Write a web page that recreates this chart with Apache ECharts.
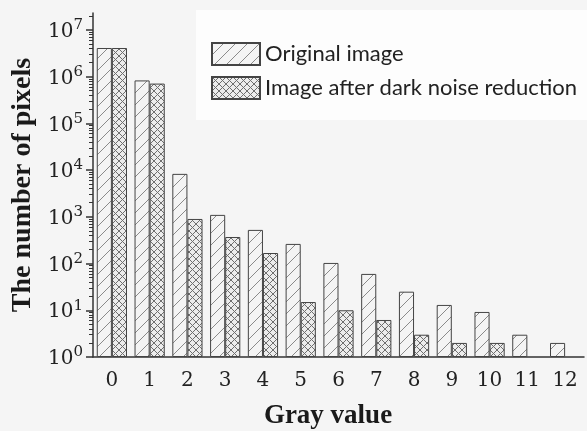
<!DOCTYPE html>
<html><head><meta charset="utf-8">
<script src="https://cdn.jsdelivr.net/npm/echarts@6/dist/echarts.min.js"></script>
<style>html,body{margin:0;padding:0;background:#f5f5f5}#c{width:587px;height:431px}</style>
</head><body><div id="c"></div>
<script>
const categories = ['0','1','2','3','4','5','6','7','8','9','10','11','12'];
const originalImage = [4.1e6, 8.3e5, 8.3e3, 1100, 525, 263, 103, 60, 25, 13, 9.2, 3, 2];
const afterReduction = [4.1e6, 7.1e5, 900, 370, 168, 15, 10, 6.2, 3, 2, 2, null, null];
const seriesNames = ['Original image', 'Image after dark noise reduction'];
const majorTicks = [1, 10, 100, 1e3, 1e4, 1e5, 1e6, 1e7];
const minorTicks = [];
for (let e = 0; e <= 7; e++) for (let k = 2; k <= 9; k++) { const v = k * Math.pow(10, e); if (v <= 2.3e7) minorTicks.push(v); }

function diagPattern() {
  const s = 12, c = document.createElement('canvas'); c.width = s; c.height = s;
  const g = c.getContext('2d');
  g.fillStyle = '#f4f4f4'; g.fillRect(0, 0, s, s);
  g.strokeStyle = '#8a8a8a'; g.lineWidth = 1;
  g.beginPath();
  g.moveTo(-1, s + 1); g.lineTo(s + 1, -1);
  g.moveTo(-1, 1); g.lineTo(1, -1);
  g.moveTo(s - 1, s + 1); g.lineTo(s + 1, s - 1);
  g.stroke();
  return c;
}
function crossPattern() {
  const s = 7, c = document.createElement('canvas'); c.width = s; c.height = s;
  const g = c.getContext('2d');
  g.fillStyle = '#ececec'; g.fillRect(0, 0, s, s);
  g.strokeStyle = '#6e6e6e'; g.lineWidth = 1;
  g.beginPath();
  g.moveTo(0, 0); g.lineTo(s, s);
  g.moveTo(0, s); g.lineTo(s, 0);
  g.stroke();
  return c;
}

const serif = 'Liberation Serif';
const gridLeft = 93, gridRight = 3, gridTop = 13, gridBottom = 74;
const W = 587, H = 431;
const chart = echarts.init(document.getElementById('c'));
const yMin = 1, yMax = 2.3e7;
chart.setOption({
  backgroundColor: '#f5f5f5',
  animation: false,
  title: {
    text: 'Gray value', left: 323, top: 398, textAlign: 'center',
    textStyle: { fontFamily: serif, fontWeight: 'bold', fontSize: 27, color: '#1a1a1a' }
  },
  legend: {
    data: seriesNames, orient: 'vertical', left: 196, top: 10,
    padding: [32, 20, 20, 15], backgroundColor: '#fdfdfd',
    itemWidth: 48, itemHeight: 22, itemGap: 10, icon: 'rect',
    textStyle: { fontFamily: 'Lato', fontSize: 22, color: '#222' }
  },
  grid: { left: gridLeft, right: gridRight, top: gridTop, bottom: gridBottom, containLabel: false },
  xAxis: [{
    type: 'category', data: categories, position: 'bottom',
    axisLine: { lineStyle: { color: '#333', width: 1.5 } },
    axisTick: { alignWithLabel: true, length: 6, lineStyle: { color: '#333', width: 1.5 } },
    axisLabel: { fontFamily: 'DejaVu Serif', fontSize: 20, color: '#222', margin: 14 }
  }, {
    type: 'category', data: categories, position: 'top', offset: -(H - gridTop - gridBottom),
    axisLine: { show: false },
    axisTick: { inside: true, length: 3, lineStyle: { color: '#333', width: 1.5 } },
    axisLabel: { show: false }
  }],
  yAxis: [{
    type: 'log', logBase: 10, min: yMin, max: yMax, position: 'left',
    name: 'The number of pixels', nameLocation: 'middle', nameGap: 53,
    nameTextStyle: { fontFamily: serif, fontWeight: 'bold', fontSize: 28, color: '#1a1a1a' },
    axisLine: { show: true, lineStyle: { color: '#333', width: 1.5 } },
    axisTick: { show: true, length: 7, customValues: majorTicks, lineStyle: { color: '#333', width: 1.5 } },
    axisLabel: {
      customValues: majorTicks, margin: 10,
      formatter: v => '{b|10}{s|' + Math.round(Math.log10(v)) + '}',
      rich: {
        b: { fontFamily: 'DejaVu Serif', fontSize: 20, color: '#222', lineHeight: 24, verticalAlign: 'bottom' },
        s: { fontFamily: 'DejaVu Serif', fontSize: 15, color: '#222', lineHeight: 24, verticalAlign: 'top', padding: [0, 0, 10, 0] }
      }
    },
    splitLine: { show: false }
  }, {
    type: 'log', logBase: 10, min: yMin, max: yMax, position: 'right', offset: -(W - gridLeft - gridRight),
    axisLine: { show: false },
    axisTick: { show: true, inside: true, length: 4, customValues: minorTicks, lineStyle: { color: '#333', width: 1 } },
    axisLabel: { show: false },
    splitLine: { show: false }
  }],
  series: [{
    name: seriesNames[0], type: 'bar', data: originalImage,
    barGap: '0%', barCategoryGap: '20%',
    itemStyle: { color: { image: diagPattern(), repeat: 'repeat' }, borderColor: '#444', borderWidth: 1 }
  }, {
    name: seriesNames[1], type: 'bar', data: afterReduction,
    barGap: '0%', barCategoryGap: '20%',
    itemStyle: { color: { image: crossPattern(), repeat: 'repeat' }, borderColor: '#444', borderWidth: 1 }
  }]
});
</script></body></html>
